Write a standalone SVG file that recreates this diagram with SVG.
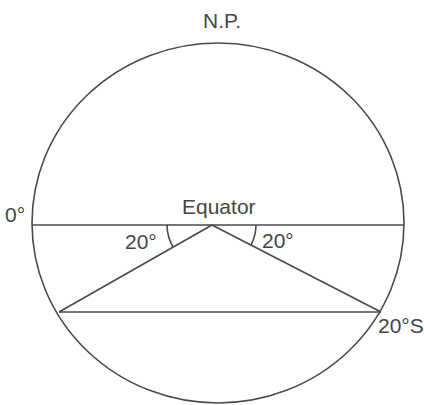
<svg xmlns="http://www.w3.org/2000/svg" width="424" height="405" viewBox="0 0 424 405">
<style>
.ln{fill:none;stroke:#4a4a4a;stroke-width:1.6}
.t{font-family:"Liberation Sans",Arial,sans-serif;font-size:21px;fill:#454545}
</style>
<rect width="424" height="405" fill="#fff"/>
<g id="circle"><ellipse class="ln" cx="218" cy="223" rx="186" ry="180"/></g>
<g id="connectors">
<line class="ln" x1="32" y1="225" x2="404" y2="225"/>
<line class="ln" x1="59" y1="312" x2="381" y2="312"/>
<line class="ln" x1="212" y1="225" x2="59" y2="312"/>
<line class="ln" x1="212" y1="225" x2="381" y2="312"/>
<path class="ln" d="M167 225 A45 45 0 0 0 173 247"/>
<path class="ln" d="M256 225 A44 44 0 0 1 251 245"/>
</g>
<g id="labels">
<text class="t" x="182" y="214">Equator</text>
<text class="t" x="203" y="28">N.P.</text>
<text class="t" x="5" y="222">0°</text>
<text class="t" x="125" y="249">20°</text>
<text class="t" x="262" y="248">20°</text>
<text class="t" x="378" y="333">20°S</text>
</g>
</svg>
